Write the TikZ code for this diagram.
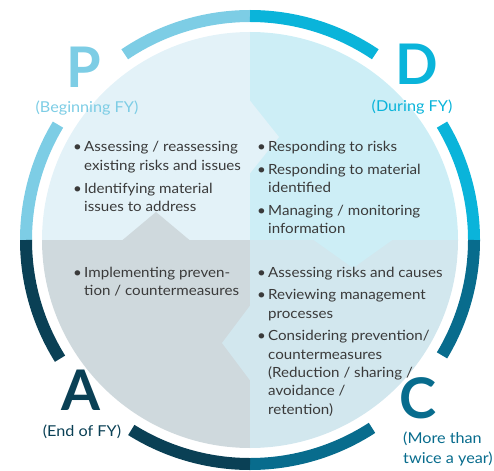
\documentclass[tikz,border=0pt]{standalone}
\usepackage{fontspec}
\setmainfont{Lato}[FakeStretch=1.08]
\newfontfamily\bigfont{Lato}
\definecolor{pcol}{HTML}{7DCDE5}
\definecolor{dcol}{HTML}{0AB4DA}
\definecolor{ccol}{HTML}{086C8D}
\definecolor{acol}{HTML}{0A4055}
\definecolor{pfill}{HTML}{E3F2F8}
\definecolor{dfill}{HTML}{CDEEF6}
\definecolor{afill}{HTML}{CFD9DD}
\definecolor{cfill}{HTML}{D2E7EE}
\definecolor{txtcol}{HTML}{3A3A3A}
\newcommand\bl{\makebox[11pt][l]{\textbullet}}
\tikzset{
  ring/.style={line width=12pt},
  body/.style={font=\fontsize{14}{18.3}\selectfont, text=txtcol, inner sep=0pt, anchor=base west},
  big/.style={font=\bigfont\fontsize{56}{56}\selectfont\bfseries, inner sep=0pt, anchor=base},
  lab/.style={font=\fontsize{15}{20}\selectfont, inner sep=0pt, anchor=base}
}
\begin{document}
\begin{tikzpicture}[x=1pt,y=-1pt]
\useasboundingbox (0,0) rectangle (494,470);
\coordinate (c) at (250,240);
% quadrant fills
\begin{scope}
\clip (c) circle[radius=208];
\fill[pfill] (0,0) rectangle (250,240);
\fill[dfill] (250,0) rectangle (494,240);
\fill[afill] (0,240) rectangle (250,470);
\fill[cfill] (250,240) rectangle (494,470);
\fill[pfill] (249.5,100) -- (279,137) -- (249.5,174) -- cycle;
\fill[afill] (122,240.5) -- (156,212) -- (190,240.5) -- cycle;
\fill[dfill] (313,239.5) -- (353,268) -- (393,239.5) -- cycle;
\fill[cfill] (250.5,305) -- (222,343) -- (250.5,381) -- cycle;
\end{scope}
% ring arcs
\draw[ring,pcol] ([shift={(-124:224)}]c) arc[start angle=-124, end angle=-90, radius=224];
\draw[ring,pcol] ([shift={(-180:224)}]c) arc[start angle=-180, end angle=-149, radius=224];
\draw[ring,dcol] ([shift={(-90:224)}]c) arc[start angle=-90, end angle=-56, radius=224];
\draw[ring,dcol] ([shift={(-31:224)}]c) arc[start angle=-31, end angle=0, radius=224];
\draw[ring,ccol] ([shift={(0:224)}]c) arc[start angle=0, end angle=31, radius=224];
\draw[ring,ccol] ([shift={(57:224)}]c) arc[start angle=57, end angle=90, radius=224];
\draw[ring,acol] ([shift={(90:224)}]c) arc[start angle=90, end angle=122, radius=224];
\draw[ring,acol] ([shift={(148:224)}]c) arc[start angle=148, end angle=180, radius=224];
% letters
\node[big,text=pcol] (P) at (84,88) {P};
\node[big,text=dcol] (D) at (417,85) {D};
\node[big,text=acol] (A) at (81,410) {A};
\node[big,text=ccol] (C) at (418,418) {C};
% labels
\node[lab,text=pcol] (pl) at (87,112.7) {(Beginning FY)};
\node[lab,text=dcol] (dl) at (412,111.7) {(During FY)};
\node[lab,text=acol] (al) at (82,436) {(End of FY)};
\node[lab,text=ccol,anchor=base west] (cl) at (403,443.3) {\begin{tabular}[t]{@{}l@{}}(More than\\twice a year)\end{tabular}};
% bullet texts
\node[body] (pt) at (73,152) {\begin{tabular}[t]{@{}l@{}l@{}}
\bl & Assessing / reassessing\\
 & existing risks and issues\\[4.5pt]
\bl & Identifying material\\
 & issues to address
\end{tabular}};
\node[body] (dt) at (257,151.5) {\begin{tabular}[t]{@{}l@{}l@{}}
\bl & Responding to risks\\[4.5pt]
\bl & Responding to material\\
 & identified\\[4.5pt]
\bl & Managing / monitoring\\
 & information
\end{tabular}};
\node[body] (at) at (73,277) {\begin{tabular}[t]{@{}l@{}l@{}}
\bl & Implementing preven-\\
 & tion / countermeasures
\end{tabular}};
\node[body] (ct) at (257,277) {\begin{tabular}[t]{@{}l@{}l@{}}
\bl & Assessing risks and causes\\[4.5pt]
\bl & Reviewing management\\
 & processes\\[4.5pt]
\bl & Considering prevention/\\
 & countermeasures\\
 & (Reduction / sharing /\\
 & avoidance /\\
 & retention)
\end{tabular}};
\end{tikzpicture}
\end{document}
